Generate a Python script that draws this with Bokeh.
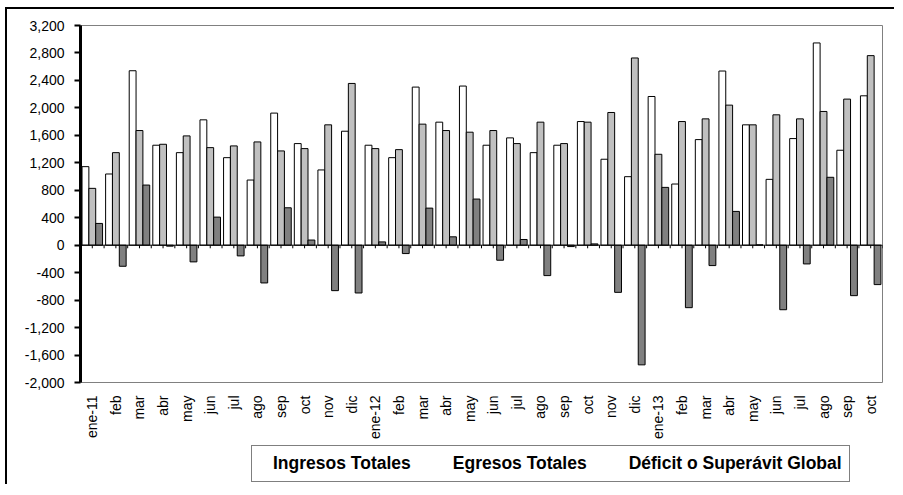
from bokeh.plotting import figure
from bokeh.layouts import column
from bokeh.models import (ColumnDataSource, Range1d, FixedTicker, Span,
                          NumeralTickFormatter, Legend, LegendItem, SingleIntervalTicker)
from bokeh.transform import dodge
from bokeh.embed import file_html
from bokeh.resources import INLINE

# ---- data ----
labels = ["ene-11", "feb", "mar", "abr", "may", "jun", "jul", "ago", "sep", "oct", "nov", "dic",
          "ene-12", "feb", "mar", "abr", "may", "jun", "jul", "ago", "sep", "oct", "nov", "dic",
          "ene-13", "feb", "mar", "abr", "may", "jun", "jul", "ago", "sep", "oct"]
ingresos = [1144, 1037, 2541, 1456, 1348, 1826, 1275, 949, 1924, 1480, 1096, 1660,
            1456, 1275, 2303, 1792, 2318, 1456, 1563, 1348, 1456, 1801, 1252, 998,
            2166, 891, 1538, 2537, 1753, 959, 1553, 2946, 1383, 2176]
egresos = [828, 1348, 1670, 1470, 1592, 1421, 1446, 1504, 1373, 1407, 1753, 2356,
           1407, 1392, 1763, 1670, 1646, 1670, 1480, 1792, 1480, 1792, 1933, 2727,
           1324, 1801, 1840, 2040, 1753, 1899, 1840, 1948, 2128, 2761]
deficit = [317, -307, 876, -14, -243, 409, -156, -550, 545, 75, -662, -696,
           48, -122, 540, 122, 672, -219, 83, -443, -20, 19, -687, -1743,
           842, -910, -297, 492, 5, -940, -273, 989, -735, -574]
series_names = ["Ingresos Totales", "Egresos Totales", "Déficit o Superávit Global"]
series_colors = ["#FFFFFF", "#C0C0C0", "#808080"]

n = len(labels)
idx = list(range(n))
src = ColumnDataSource(dict(i=idx, ing=ingresos, egr=egresos, dfc=deficit))

FONT = "Liberation Sans"

p = figure(width=889, height=437, x_range=Range1d(-0.5, n - 0.5), y_range=Range1d(-2000, 3200),
           output_backend="svg", toolbar_location=None,
           min_border_left=73, min_border_top=16, min_border_right=14, min_border_bottom=64)
p.styles = {"margin-left": "5px", "margin-top": "7px",
            "border-left": "2px solid black", "border-top": "2px solid black"}
p.outline_line_color = "#808080"
p.outline_line_width = 1
p.xgrid.grid_line_color = None
p.ygrid.grid_line_color = None
p.background_fill_color = "white"
p.border_fill_color = "white"

bw = 0.29
cols = ["ing", "egr", "dfc"]
offs = [-bw, 0.0, bw]
for c, o, col in zip(cols, offs, series_colors):
    p.vbar(x=dodge("i", o), top=c, bottom=0, width=bw, source=src,
           fill_color=col, line_color="#000000", line_width=1)

# zero line and small category tick marks on it
p.add_layout(Span(location=0, dimension="width", line_color="black", line_width=1))
tick_x = [-0.5 + 0.5 * j for j in range(2 * n + 1)]
p.segment(x0=tick_x, x1=tick_x, y0=[0] * len(tick_x), y1=[-45] * len(tick_x),
          line_color="black", line_width=1)

# y axis
ya = p.yaxis[0]
ya.ticker = SingleIntervalTicker(interval=400)
ya.formatter = NumeralTickFormatter(format="0,0")
ya.axis_line_color = "black"
ya.axis_line_width = 3
ya.major_tick_line_color = "black"
ya.major_tick_line_width = 2
ya.major_tick_out = 6
ya.major_tick_in = 0
ya.minor_tick_line_color = None
ya.major_label_text_font = FONT
ya.major_label_text_font_size = "14px"
ya.major_label_text_color = "black"
ya.major_label_standoff = 10

# x axis (labels at bottom)
xa = p.xaxis[0]
xa.ticker = FixedTicker(ticks=idx)
xa.axis_line_color = None
xa.major_tick_line_color = None
xa.minor_tick_line_color = None
xa.major_label_overrides = {i: l for i, l in zip(idx, labels)}
xa.major_label_orientation = 1.5708
xa.major_label_text_font = FONT
xa.major_label_text_font_size = "14px"
xa.major_label_text_color = "black"
xa.major_label_standoff = 7

# ---- legend strip under the chart ----
lg = figure(width=889, height=40, x_range=Range1d(0, 1), y_range=Range1d(0, 1),
            output_backend="svg", toolbar_location=None,
            x_axis_location=None, y_axis_location=None, min_border=0)
lg.styles = {"margin-left": "5px", "border-left": "2px solid black"}
lg.outline_line_color = None
lg.xgrid.grid_line_color = None
lg.ygrid.grid_line_color = None
lg.background_fill_color = "white"
lg.border_fill_color = "white"
swatches = []
for col in series_colors:
    swatches.append(lg.vbar(x=[], top=[], width=bw, fill_color=col,
                            line_color="#000000", line_width=1))

legend = Legend(items=[LegendItem(label=s, renderers=[r]) for s, r in zip(series_names, swatches)],
                orientation="horizontal", location=(171, 2))
legend.label_text_font = FONT
legend.label_text_font_style = "bold"
legend.label_text_font_size = "17.5px"
legend.label_text_color = "black"
legend.glyph_width = 10
legend.glyph_height = 10
legend.label_standoff = 4
legend.spacing = 28
legend.padding = 7
legend.margin = 0
legend.border_line_color = "black"
legend.border_line_width = 1
lg.add_layout(legend, "center")

layout = column(p, lg, spacing=0)
open("out.html", "w").write(file_html(layout, INLINE))
